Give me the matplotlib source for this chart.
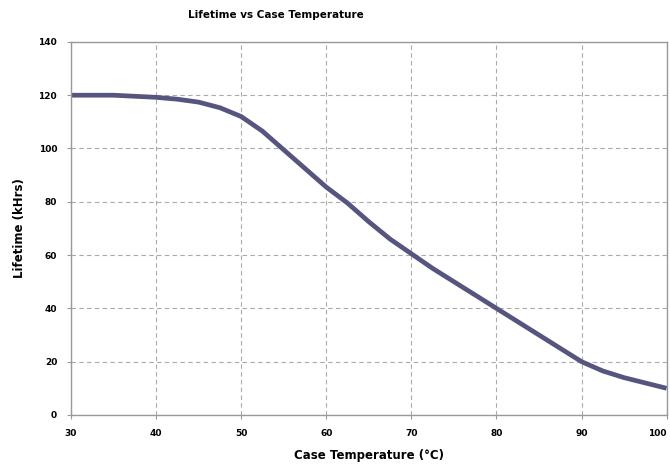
import matplotlib
matplotlib.use("Agg")
import matplotlib.pyplot as plt

# values
case_temp = [30, 35, 40, 42.5, 45, 47.5, 50, 52.5, 55, 57.5, 60, 62.5, 65, 67.5,
             70, 72.5, 75, 77.5, 80, 82.5, 85, 87.5, 90, 92.5, 95, 97.5, 100]
lifetime = [120, 120, 119.2, 118.5, 117.4, 115.3, 112, 106.5, 99.5, 92.5, 85.5, 79.5,
            72.5, 66, 60.5, 55, 50, 45, 40, 35, 30, 25, 20, 16.5, 14, 12, 10]
x_ticks = [30, 40, 50, 60, 70, 80, 90, 100]
y_ticks = [0, 20, 40, 60, 80, 100, 120, 140]

plt.rcParams["font.family"] = ["DejaVu Sans"]

fig = plt.figure(figsize=(6.70, 4.71), dpi=100)
ax = fig.add_axes([0.106, 0.119, 0.889, 0.792])

ax.plot(case_temp, lifetime, color="#56557f", linewidth=3.4, solid_capstyle="butt")

ax.set_xlim(30, 100)
ax.set_ylim(0, 140)
ax.set_xticks(x_ticks)
ax.set_yticks(y_ticks)
ax.tick_params(labelsize=6.5, length=3, color="#999999", pad=7)
for lab in ax.get_xticklabels() + ax.get_yticklabels():
    lab.set_fontweight("bold")
ax.get_xticklabels()[-1].set_horizontalalignment("right")

ax.grid(True, linestyle=(0, (4, 3)), color="#aaaaaa", linewidth=0.8)
for s in ax.spines.values():
    s.set_color("#999999")
    s.set_linewidth(1.0)

fig.text(0.412, 0.968, "Lifetime vs Case Temperature", fontsize=7.5,
         fontweight="bold", ha="center", va="center")
ax.set_xlabel("Case Temperature (°C)", fontsize=8.5, fontweight="bold", labelpad=8)
ax.set_ylabel("Lifetime (kHrs)", fontsize=8.5, fontweight="bold", labelpad=9)

fig.savefig("out.png", dpi=100)
